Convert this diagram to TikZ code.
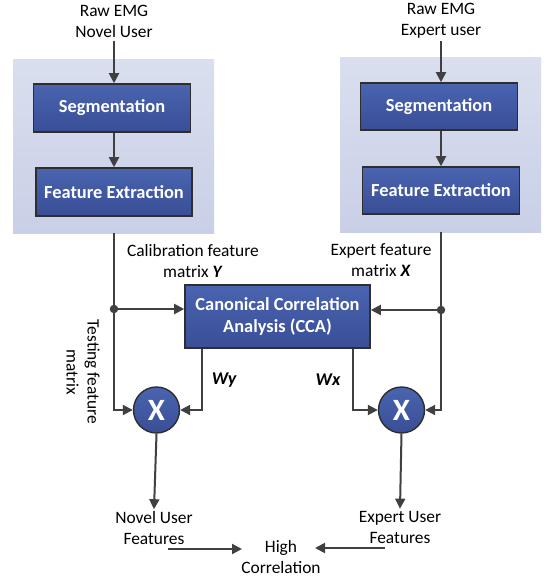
\documentclass[tikz,border=0pt]{standalone}
\usepackage{fontspec}
\setmainfont{Carlito}
\usetikzlibrary{arrows.meta}

\definecolor{boxtop}{HTML}{4A64B0}
\definecolor{boxbot}{HTML}{394E96}
\definecolor{boxline}{HTML}{2E2E2E}
\definecolor{paneltop}{HTML}{DADFEF}
\definecolor{panelbot}{HTML}{C9CFE6}
\definecolor{wire}{HTML}{404040}

\tikzset{
  panel/.style={rectangle, draw=none, top color=paneltop, bottom color=panelbot},
  procbox/.style={rectangle, draw=boxline, line width=1.6pt, top color=boxtop, bottom color=boxbot,
    text=white, font=\fontsize{18.4}{21.5}\selectfont\bfseries, align=center, inner sep=0pt},
  mult/.style={circle, draw=boxline, line width=1.4pt, top color=boxtop, bottom color=boxbot,
    text=white, font=\fontsize{31}{32}\selectfont\bfseries, minimum size=46pt, inner sep=0pt},
  lbl/.style={font=\fontsize{17.4}{21}\selectfont, align=center, inner sep=1pt, text=black},
  wlbl/.style={font=\fontsize{18}{21}\selectfont\bfseries\itshape, inner sep=0pt},
  arr/.style={draw=wire, line width=2pt, -{Triangle[length=10pt,width=10pt]}},
  junction/.style={circle, fill=wire, inner sep=0pt, minimum size=8.5pt},
}

\begin{document}
\begin{tikzpicture}[x=1pt,y=-1pt]
\useasboundingbox (0,0) rectangle (549,578);
\fill[white] (0,0) rectangle (549,578);

% background panels for the two feature pipelines
\node[panel, minimum width=201pt, minimum height=173pt] (panL) at (113.5,146.5) {};
\node[panel, minimum width=201pt, minimum height=174pt] (panR) at (440.5,145) {};

% novel user pipeline
\node[lbl] (inL) at (114,21.5) {Raw EMG\\Novel User};
\node[procbox, minimum width=157pt, minimum height=48pt] (segL) at (112,108) {Segmentation};
\node[procbox, minimum width=156pt, minimum height=48pt] (feL) at (114,192) {Feature Extraction};

% expert user pipeline
\node[lbl] (inR) at (441,20.5) {Raw EMG\\Expert user};
\node[procbox, minimum width=157pt, minimum height=47pt] (segR) at (439,106.5) {Segmentation};
\node[procbox, minimum width=157pt, minimum height=47pt] (feR) at (441,190.5) {Feature Extraction};

% CCA block
\node[procbox, minimum width=185pt, minimum height=63pt] (cca) at (277.5,316.5) {Canonical Correlation\\Analysis (CCA)};

% projection multipliers
\node[mult] (xL) at (156.5,410) {X};
\node[mult] (xR) at (401.5,410) {X};

% junctions on the feature trunks
\node[junction] (dotL) at (114,309) {};
\node[junction] (dotR) at (441,310) {};

% outputs
\node[lbl] (outL) at (154,528) {Novel User\\Features};
\node[lbl] (outR) at (400,527) {Expert User\\Features};
\node[lbl] (hc) at (281,557) {High\\Correlation};

% text labels on the wires
\node[lbl] (calib) at (193,261) {Calibration feature\\matrix \textbf{\textit{Y}}};
\node[lbl] (expm) at (381,260) {Expert feature\\matrix \textbf{\textit{X}}};
\node[lbl, rotate=-90] (test) at (83,372) {Testing feature\\matrix};
\node[wlbl] (wy) at (224,380) {Wy};
\node[wlbl] (wx) at (328,380) {Wx};

% input arrows
\draw[arr] ([yshift=-2pt]inL.south) -- (inL.south |- segL.north);
\draw[arr] ([yshift=-2pt]inR.south) -- (inR.south |- segR.north);
\draw[arr] (feL.north |- segL.south) -- (feL.north);
\draw[arr] (feR.north |- segR.south) -- (feR.north);

% feature trunks
\draw[arr] (panL.south -| feL.south) |- (xL.west);
\draw[arr] (panR.south -| feR.south) |- (xR.east);
\draw[arr] (dotL) -- (dotL -| cca.west);
\draw[arr] (dotR) -- (dotR -| cca.east);

% CCA weights to the multipliers
\draw[arr] ([xshift=17.5pt]cca.south west) |- (xL.east);
\draw[arr] ([xshift=-17.5pt]cca.south east) |- (xR.west);

% outputs
\draw[arr] (xL.south) -- ([yshift=1pt]outL.north);
\draw[arr] (xR.south) -- ([yshift=1pt]outR.north);
\draw[arr] ([xshift=14pt,yshift=-21pt]outL.center) -- ([xshift=-39pt,yshift=8pt]hc.center);
\draw[arr] ([xshift=-15pt,yshift=-21pt]outR.center) -- ([xshift=34pt,yshift=9pt]hc.center);
\end{tikzpicture}
\end{document}
